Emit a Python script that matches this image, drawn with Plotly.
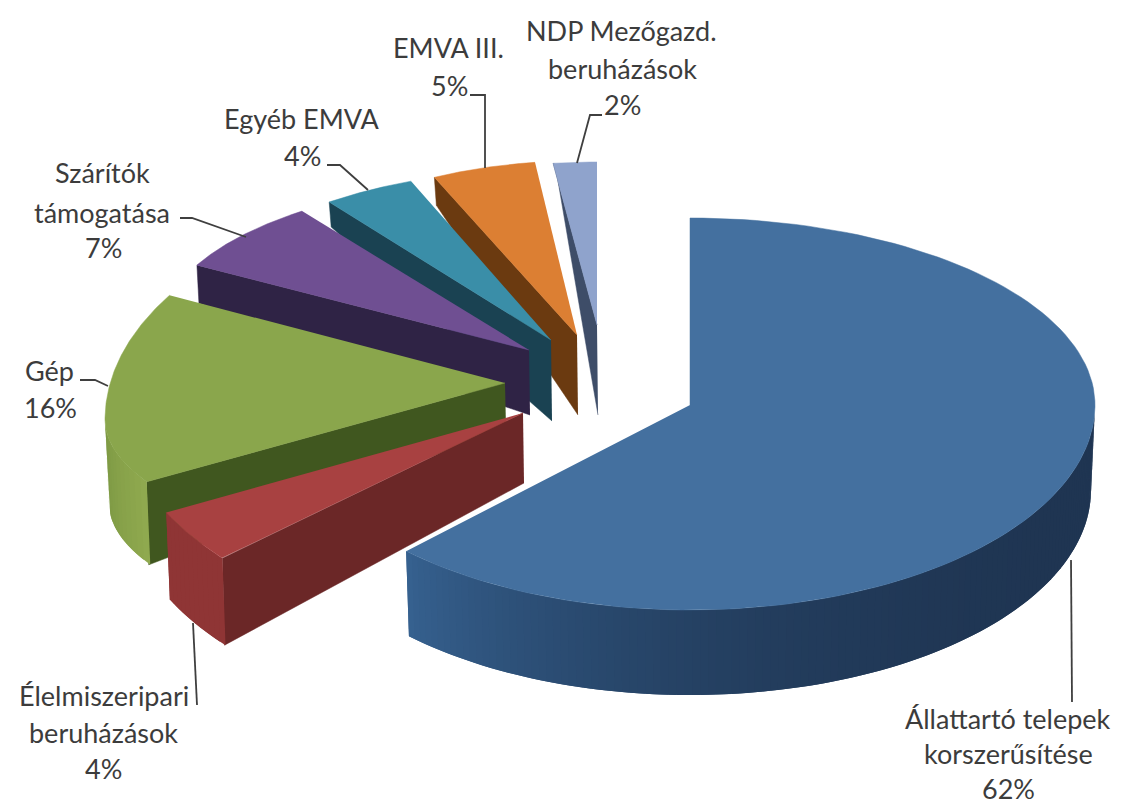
import numpy as np
import plotly.graph_objects as go

# --- data ---
categories = ["Állattartó telepek korszerűsítése", "Élelmiszeripari beruházások", "Gép",
              "Szárítók támogatása", "Egyéb EMVA", "EMVA III.", "NDP Mezőgazd. beruházások"]
values = [62, 4, 16, 7, 4, 5, 2]

label_lines = [["Állattartó telepek", "korszerűsítése", "62%"],
               ["Élelmiszeripari", "beruházások", "4%"],
               ["Gép", "16%"],
               ["Szárítók", "támogatása", "7%"],
               ["Egyéb EMVA", "4%"],
               ["EMVA III.", "5%"],
               ["NDP Mezőgazd.", "beruházások", "2%"]]

# --- styling of the 3-D look (pixels on the pixel-scaled axes) ---
apex = [(690, 405), (523, 413), (505, 383), (529, 350), (551, 340), (577, 335), (597, 325)]
center_dy = [0, 0, 37, -21, -27, -2, 0]
rx = [405, 400, 400, 367, 348, 335, 350]
ry_up = [187, 190, 229, 150, 144, 172, 163]
ry_down = [205, 220, 139, 150, 144, 172, 163]
start_shift = [0, 5.5, 6, 0, 0, 0, 0]
end_shift = [1.3, 5.5, 7.8, 1.4, 1.5, 0, 0]
apex_depth = [85, 70, 45, 65, 81, 80, 90]
outer_depth = [85, 87, 83, 38, 25, 28, 1]
top_col = ["#44709f", "#a84141", "#8aa64c", "#6f4f92", "#3a8ea8", "#dc7f33", "#8fa3cc"]
dark_col = ["#1f3552", "#6b2727", "#40571f", "#2f2345", "#1a4252", "#6b3a10", "#3e4d68"]
arc_from = ["#1f3552", "#8f3535", "#8fa94f", "#2f2345", "#1a4252", "#6b3a10", "#3e4d68"]
arc_to = ["#36618f", "#8f3535", "#7c9843", "#2f2345", "#1a4252", "#6b3a10", "#3e4d68"]
label_pos = [[(1008, 718), (1008, 753), (1008, 788)],
             [(104, 695), (103, 732), (103, 768)],
             [(49, 370), (50, 407)],
             [(102, 172), (102, 212), (103, 247)],
             [(302, 118), (302, 155)],
             [(448, 47), (449, 85)],
             [(621, 30), (622, 68), (622, 104)]]
leader_x = [[1071, 1072], [193, 197], [80, 95, 108], [180, 192, 246], [327, 340, 368], [470, 485, 485], [602, 590, 577]]
leader_y = [[560, 702], [623, 705], [380, 380, 386], [218, 218, 237], [165, 165, 190], [95, 95, 168], [115, 115, 163]]

fig = go.Figure()


def poly(xs, ys, color, seam=0.0):
    fig.add_trace(go.Scatter(x=list(xs), y=list(ys), mode="lines", fill="toself", fillcolor=color,
                             line=dict(color=color, width=seam), hoverinfo="skip", showlegend=False))


def hex_rgb(h):
    return np.array([int(h[i:i + 2], 16) for i in (1, 3, 5)], dtype=float)


total = sum(values)
edges = np.cumsum([0] + values) / total * 360.0


def point(i, deg):
    t = np.radians(deg)
    ry = ry_up[i] if np.cos(t) > 0 else ry_down[i]
    return apex[i][0] + rx[i] * np.sin(t), apex[i][1] + center_dy[i] - ry * np.cos(t)


for i in [6, 5, 4, 3, 2, 1, 0]:
    a0 = edges[i] + start_shift[i]
    a1 = edges[i + 1] + end_shift[i]
    ax, ay = apex[i]
    # radial face at the start edge
    if i != 0:
        ox, oy = point(i, a0)
        poly([ax, ox, ox + 2, ax + 1], [ay, oy, oy + outer_depth[i], ay + apex_depth[i]], dark_col[i], 0.5)
    # outer curved face, front half only; each strip overlaps the next so that no seams show
    lo, hi = max(a0, 90), min(a1, 270)
    if hi > lo:
        steps = np.linspace(lo, hi, 121 if i == 0 else 13)
        for k in range(len(steps) - 1):
            f = k / (len(steps) - 2)
            if i == 0:
                f = f ** 3
            c = (1 - f) * hex_rgb(arc_from[i]) + f * hex_rgb(arc_to[i])
            col = "rgb(%d,%d,%d)" % tuple(c)
            seg = np.linspace(steps[k], steps[min(k + 2, len(steps) - 1)], 5)
            pts = [point(i, s) for s in seg]
            xs = [p[0] for p in pts]
            ys = [p[1] for p in pts]
            bx = [ax + (x - ax) * (rx[i] - 4) / rx[i] for x in xs[::-1]]
            by = [y + outer_depth[i] for y in ys[::-1]]
            poly(xs + bx, ys + by, col, 0)
    # top face
    arc = [point(i, s) for s in np.linspace(a0, a1, 120)]
    poly([ax] + [p[0] for p in arc], [ay] + [p[1] for p in arc], top_col[i], 0.5)

for lx, ly in zip(leader_x, leader_y):
    fig.add_trace(go.Scatter(x=lx, y=ly, mode="lines", line=dict(color="#3f3f3f", width=1.8),
                             hoverinfo="skip", showlegend=False))

for lines, pos in zip(label_lines, label_pos):
    for txt, (tx, ty) in zip(lines, pos):
        fig.add_annotation(x=tx, y=ty, text=txt, showarrow=False, xanchor="center", yanchor="middle",
                           font=dict(family="Lato", size=27, color="#3c3c3c"))

fig.update_layout(width=1121, height=807, margin=dict(l=0, r=0, t=0, b=0),
                  paper_bgcolor="white", plot_bgcolor="white", showlegend=False,
                  xaxis=dict(range=[0, 1121], visible=False, fixedrange=True),
                  yaxis=dict(range=[807, 0], visible=False, fixedrange=True))
fig.write_html("out.html", config={"displayModeBar": False},
               post_script="document.body.style.margin='0';document.documentElement.style.overflow='hidden';")
